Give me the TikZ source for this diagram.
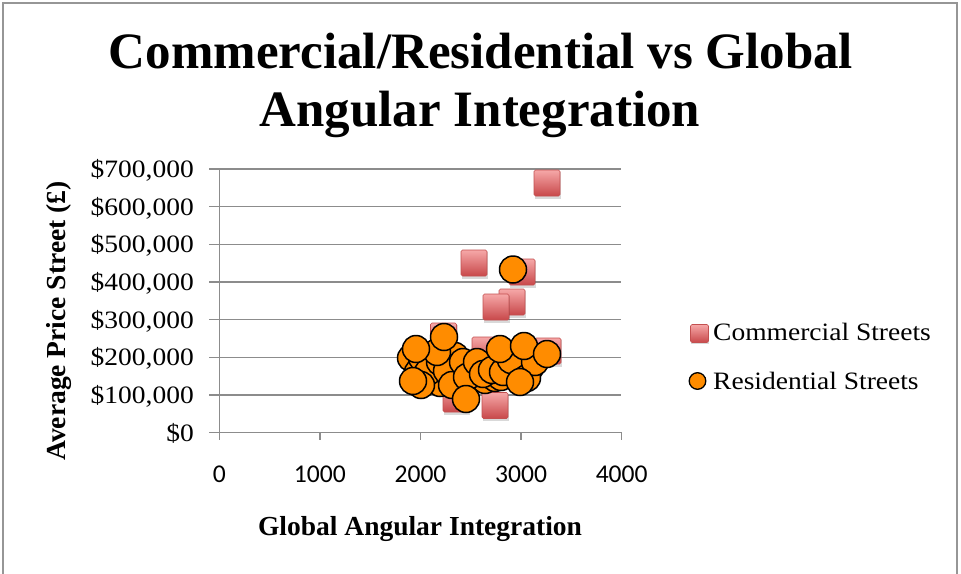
\documentclass[tikz,border=0pt]{standalone}
\usepackage{fontspec}
\setmainfont{Liberation Serif}
\newfontfamily\calibri{Carlito}
\usepackage{graphicx}
\definecolor{gridc}{RGB}{140,140,140}
\definecolor{framec}{RGB}{150,150,150}
\definecolor{sqtop}{RGB}{246,168,168}
\definecolor{sqbot}{RGB}{200,72,74}
\definecolor{sqedge}{RGB}{195,80,80}
\definecolor{orng}{RGB}{255,140,0}
\begin{document}
\begin{tikzpicture}[x=1pt,y=-1pt,
  ylab/.style={anchor=base east, inner sep=0, font=\fontsize{25}{30}\selectfont},
  xlab/.style={anchor=base, inner sep=0, font=\calibri\fontsize{25.6}{30}\selectfont},
  ttl/.style={anchor=base, inner sep=0, font=\bfseries\fontsize{51}{60}\selectfont},
  axttl/.style={anchor=base, inner sep=0, font=\bfseries\fontsize{27.5}{32}\selectfont},
  legtxt/.style={anchor=base west, inner sep=0, font=\fontsize{25}{30}\selectfont},
  gridline/.style={draw=gridc, line width=1.3pt},
  sqshadow/.style={fill=black, opacity=0.15},
  sqmark/.style={top color=sqtop, bottom color=sqbot, draw=sqedge, line width=0.6pt, rounded corners=1.5pt},
  cmark/.style={fill=orng, draw=black, line width=1.5pt}]
\useasboundingbox (0,0) rectangle (961,573);
\fill[white] (0,0) rectangle (961,573);
\draw[framec, line width=1.5pt] (3,580) -- (3,3) -- (957,3) -- (957,580);

% title
\node[ttl] (title1) at (481,68) {Commercial/Residential vs Global};
\node[ttl] (title2) at (480,126) {Angular Integration};

% grid
\foreach \k in {1,...,7}
  \draw[gridline] (209,{432.7-37.66*\k}) -- (621,{432.7-37.66*\k});
\draw[gridline] (209,432.7) -- (621.7,432.7);
\draw[gridline] (219.3,169) -- (219.3,439.7);
\foreach \i in {1,...,4}
  \draw[gridline] ({219.3+100.6*\i},432.7) -- ++(0,7);

% y tick labels
\node[ylab] (y0) at (194,441.1) {\scalebox{1.1}[1]{\$0}};
\node[ylab] (y1) at (194,403.4) {\scalebox{1.1}[1]{\$100,000}};
\node[ylab] (y2) at (194,365.8) {\scalebox{1.1}[1]{\$200,000}};
\node[ylab] (y3) at (194,328.1) {\scalebox{1.1}[1]{\$300,000}};
\node[ylab] (y4) at (194,290.5) {\scalebox{1.1}[1]{\$400,000}};
\node[ylab] (y5) at (194,252.8) {\scalebox{1.1}[1]{\$500,000}};
\node[ylab] (y6) at (194,215.1) {\scalebox{1.1}[1]{\$600,000}};
\node[ylab] (y7) at (194,177.5) {\scalebox{1.1}[1]{\$700,000}};

% x tick labels
\node[xlab] (x0) at (219.3,482) {0};
\node[xlab] (x1) at (319.9,482) {1000};
\node[xlab] (x2) at (420.5,482) {2000};
\node[xlab] (x3) at (521.1,482) {3000};
\node[xlab] (x4) at (621.7,482) {4000};

% axis titles
\node[axttl] (xtitle) at (420,535) {Global Angular Integration};
\node[axttl, rotate=90] (ytitle) at (65,321) {Average Price Street (£)};

% commercial squares
\foreach \x/\y in {547/183, 474/263, 522/272, 512/302, 496/307, 443.5/336, 485/350, 548/351, 522/372, 456/399, 495/405.5} {
  \fill[sqshadow] (\x-12,\y-11) rectangle (\x+14,\y+15.5);
  \shade[sqmark] (\x-13,\y-13) rectangle (\x+13,\y+13);
}

% residential circles (inner ones first, outer ones last)
\foreach \x/\y in {
  411/358, 425/365, 433/360, 418/372, 436/370, 450/365, 455/356,
  460/372, 470/368, 480/372, 488/367, 498/360, 507/367, 515/373, 520/362, 530/368, 431/380, 445/379,
  458/382, 440/383, 475/378, 485/380, 495/378, 501/377,
  422/358, 428/372, 440/362, 447/371, 452/385, 463/362, 467/377, 477/362, 483/374, 492/370, 503/372,
  511/360, 527/378, 535/362, 421/385, 437/352,
  513/269.5, 416/349, 444/337, 500/349, 524/346, 547/354, 413/381, 466/399, 520/382} {
  \filldraw[cmark] (\x,\y) circle (13.5);
}

% legend
\fill[sqshadow] (691,326) rectangle (709,344);
\shade[sqmark] (690.5,324.5) rectangle (708.5,342.5);
\node[legtxt] (leg1) at (713,340) {\scalebox{1.1}[1]{Commercial Streets}};
\filldraw[cmark, line width=1.3pt] (697.5,381) circle (8.3);
\node[legtxt] (leg2) at (713,389) {\scalebox{1.1}[1]{Residential Streets}};
\end{tikzpicture}
\end{document}
